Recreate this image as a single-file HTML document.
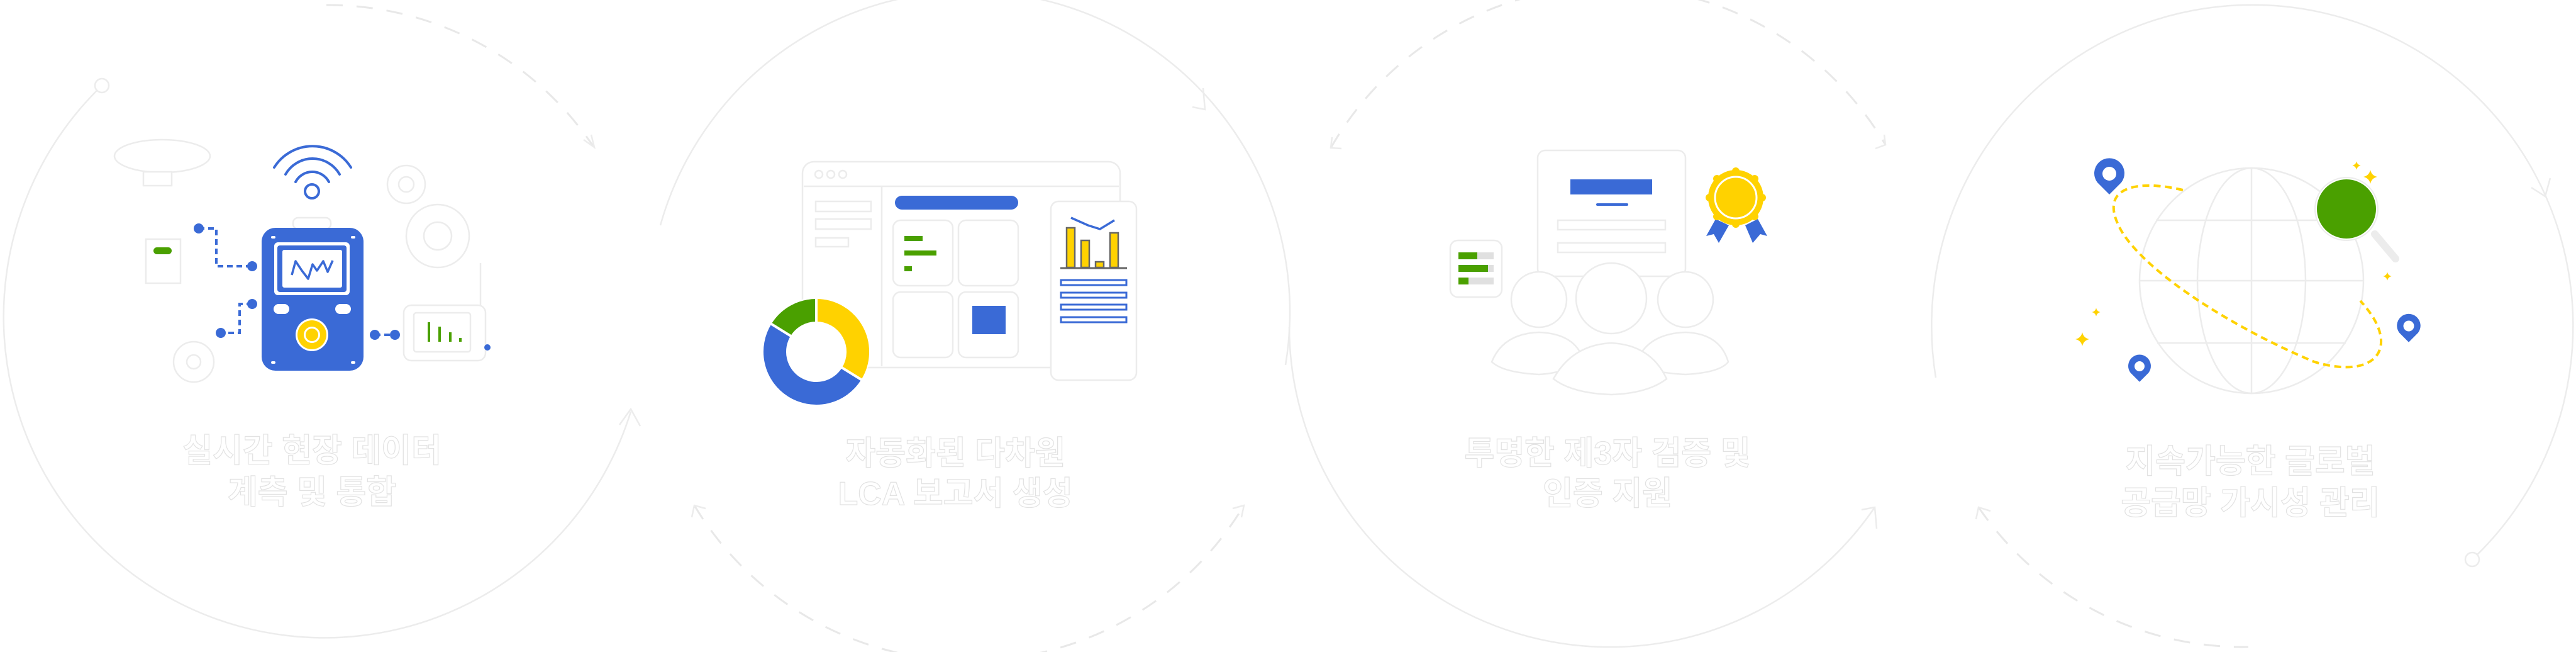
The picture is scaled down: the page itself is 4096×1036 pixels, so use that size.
<!DOCTYPE html>
<html><head><meta charset="utf-8"><style>
html,body{margin:0;padding:0;background:#fff;}
svg{display:block;}
.t{font-family:"Liberation Sans","Noto Sans CJK KR",sans-serif;font-weight:700;font-size:52px;fill:#fff;stroke:#e2e2e2;stroke-width:1.2px;text-anchor:middle;}
.g{fill:none;stroke:#ececec;stroke-width:2.5;}
.gd{fill:none;stroke:#e8e8e8;stroke-width:3;stroke-dasharray:26 22;}
.f{fill:#fff;stroke:#ececec;stroke-width:2.5;}
</style></head><body>
<svg width="4096" height="1036" viewBox="0 0 4096 1036" xmlns="http://www.w3.org/2000/svg">
<rect width="4096" height="1036" fill="#fff"/>

<path class="gd" d="M519,8 A510,510 0 0 1 943,232"/>
<polyline class="g" points="928,222 945,234 940,214"/>
<path class="g" d="M162,136 A510,510 0 1 0 1003,654"/>
<circle cx="162" cy="136" r="11" class="f"/>
<polyline class="g" points="985,675 1003,650 1018,677"/>
<path class="g" d="M1050,358 A510,510 0 0 1 2044,580"/>
<polyline class="g" points="1896,170 1916,174 1913,140"/>
<path class="gd" d="M1104,803 A510,510 0 0 0 1978,803"/>
<polyline class="g" points="1100,822 1104,803 1122,808"/>
<polyline class="g" points="1960,808 1978,803 1974,822"/>
<path class="gd" d="M2116,235 A510,510 0 0 1 2998,230"/>
<polyline class="g" points="2118,218 2116,235 2133,236"/>
<polyline class="g" points="2982,236 2998,230 2996,214"/>
<path class="g" d="M2050,520 A510,510 0 0 0 2981,806"/>
<polyline class="g" points="2960,810 2981,806 2984,840"/>
<path class="g" d="M3078,600 A510,510 0 1 1 3931,889"/>
<polyline class="g" points="4025,298 4047,312 4055,283"/>
<circle cx="3931" cy="889" r="11" class="f"/>
<path class="gd" d="M3146,806 A510,510 0 0 0 3575,1028"/>
<polyline class="g" points="3142,825 3146,806 3165,812"/>

<ellipse cx="258" cy="248" rx="76" ry="26" class="f"/>
<rect x="228" y="273" width="45" height="22" class="f"/>
<rect x="232" y="380" width="55" height="70" class="f"/>
<g class="f"><circle cx="646" cy="293" r="30"/><circle cx="646" cy="293" r="12"/>
<circle cx="696" cy="375" r="50"/><circle cx="696" cy="375" r="22"/>
<circle cx="308" cy="575" r="32"/><circle cx="308" cy="575" r="11"/></g>
<rect x="642" y="485" width="130" height="88" rx="12" class="f"/>
<rect x="658" y="497" width="90" height="62" rx="4" class="f"/>
<line x1="764" y1="418" x2="764" y2="485" class="g"/>
<rect x="466" y="346" width="60" height="18" rx="8" class="f"/>
<rect x="416" y="362" width="162" height="227" rx="22" fill="#3A6AD6"/>
<rect x="436" y="385" width="120" height="84" rx="6" fill="#fff"/>
<rect x="441" y="390" width="110" height="74" rx="4" fill="#3A6AD6"/>
<rect x="448" y="396" width="97" height="62" rx="4" fill="#fff" stroke="#3A6AD6" stroke-width="2"/>
<polyline points="464,437 470,415 480,430 490,443 497,420 504,430 514,415 521,432 529,414" fill="none" stroke="#3A6AD6" stroke-width="3.5" stroke-linejoin="round"/>
<rect x="435" y="483" width="25" height="16" rx="8" fill="#fff"/>
<rect x="533" y="483" width="25" height="16" rx="8" fill="#fff"/>
<circle cx="496" cy="532" r="26" fill="#fff"/>
<circle cx="496" cy="532" r="23" fill="#FFD200"/>
<circle cx="496" cy="532" r="13" fill="#fff"/>
<circle cx="496" cy="532" r="10" fill="#FFD200"/>
<g fill="#fff"><rect x="431" y="375" width="7" height="4" rx="2"/><rect x="558" y="375" width="7" height="4" rx="2"/><rect x="431" y="574" width="7" height="4" rx="2"/><rect x="558" y="574" width="7" height="4" rx="2"/></g>
<g fill="none" stroke="#3A6AD6" stroke-width="4" stroke-linecap="round">
<circle cx="496" cy="304" r="11"/>
<path d="M470,289 A30,30 0 0 1 523,289"/>
<path d="M454,277 A49.5,49.5 0 0 1 540,277"/>
<path d="M436,266 A72,72 0 0 1 558,266"/>
</g>
<g fill="none" stroke="#3A6AD6" stroke-width="4" stroke-dasharray="9 6">
<polyline points="316,363 344,363 344,423 401,423"/>
<polyline points="401,483 381,483 381,529 351,529"/>
<line x1="596" y1="532" x2="628" y2="532"/>
</g>
<g fill="#3A6AD6"><circle cx="316" cy="363" r="8"/><circle cx="401" cy="423" r="8"/><circle cx="401" cy="483" r="8"/><circle cx="351" cy="529" r="8"/><circle cx="596" cy="532" r="8"/><circle cx="628" cy="532" r="8"/><circle cx="775" cy="552" r="5"/></g>
<rect x="244" y="393" width="29" height="11" rx="5.5" fill="#4AA000"/>
<g fill="#4AA000"><rect x="680" y="512" width="4" height="31"/><rect x="697" y="519" width="4" height="24"/><rect x="714" y="528" width="4" height="15"/><rect x="730" y="537" width="4" height="6"/></g>
<text class="t" x="496" y="734">실시간 현장 데이터</text>
<text class="t" x="496" y="800">계측 및 통합</text>

<rect x="1276" y="257" width="505" height="327" rx="18" class="f"/>
<line x1="1278" y1="296" x2="1779" y2="296" class="g"/>
<line x1="1402" y1="296" x2="1402" y2="582" class="g"/>
<g class="f"><circle cx="1302" cy="277" r="6"/><circle cx="1321" cy="277" r="6"/><circle cx="1340" cy="277" r="6"/>
<rect x="1297" y="320" width="88" height="16"/><rect x="1297" y="348" width="88" height="16"/><rect x="1297" y="378" width="52" height="14"/>
<rect x="1420" y="350" width="95" height="104" rx="12"/><rect x="1524" y="350" width="95" height="104" rx="12"/>
<rect x="1420" y="464" width="95" height="104" rx="12"/><rect x="1524" y="464" width="95" height="104" rx="12"/></g>
<rect x="1423" y="311" width="196" height="22" rx="11" fill="#3A6AD6"/>
<g fill="#4AA000"><rect x="1438" y="375" width="29" height="8"/><rect x="1438" y="398" width="51" height="8"/><rect x="1438" y="423" width="12" height="8"/></g>
<rect x="1546" y="486" width="53" height="45" fill="#3A6AD6"/>
<rect x="1671" y="320" width="136" height="284" rx="12" class="f"/>
<g fill="#FFD200" stroke="#666" stroke-width="2.5">
<rect x="1696" y="362" width="13" height="63"/><rect x="1719" y="382" width="13" height="43"/><rect x="1742" y="416" width="13" height="9"/><rect x="1765" y="370" width="13" height="55"/></g>
<line x1="1686" y1="426" x2="1792" y2="426" stroke="#666" stroke-width="3"/>
<polyline points="1703,346 1730,358 1749,364 1772,350" fill="none" stroke="#3A6AD6" stroke-width="3.5"/>
<g fill="#fff" stroke="#3A6AD6" stroke-width="3"><rect x="1687" y="445" width="104" height="8"/><rect x="1687" y="465" width="104" height="8"/><rect x="1687" y="484" width="104" height="8"/><rect x="1687" y="504" width="104" height="8"/></g>
<circle cx="1298" cy="559" r="86" fill="#fff"/>
<g fill="none" stroke-width="36">
<path d="M1298,493 A66,66 0 0 1 1354,594" stroke="#FFD200"/>
<path d="M1354,594 A66,66 0 0 1 1242,524" stroke="#3A6AD6"/>
<path d="M1242,524 A66,66 0 0 1 1298,493" stroke="#4AA000"/>
</g>
<g stroke="#fff" stroke-width="4"><line x1="1298" y1="559" x2="1298" y2="470"/><line x1="1298" y1="559" x2="1374" y2="606"/><line x1="1298" y1="559" x2="1222" y2="512"/></g>
<circle cx="1298" cy="559" r="47" fill="#fff"/>
<text class="t" x="1519" y="738">자동화된 다차원</text>
<text class="t" x="1519" y="802">LCA 보고서 생성</text>

<rect x="2445" y="239" width="235" height="200" rx="12" class="f"/>
<rect x="2497" y="285" width="130" height="24" fill="#3A6AD6"/>
<rect x="2538" y="323" width="51" height="4" rx="2" fill="#3A6AD6"/>
<rect x="2477" y="350" width="171" height="15" class="f"/>
<rect x="2477" y="386" width="171" height="15" class="f"/>
<rect x="2306" y="382" width="82" height="90" rx="12" class="f"/>
<g fill="#e0e0e0"><rect x="2319" y="401" width="56" height="11"/><rect x="2319" y="421" width="56" height="11"/><rect x="2319" y="441" width="56" height="11"/></g>
<g fill="#4AA000"><rect x="2319" y="401" width="30" height="11"/><rect x="2319" y="421" width="47" height="11"/><rect x="2319" y="441" width="16" height="11"/></g>
<g class="f">
<path d="M2372,575 Q2390,530 2447,528 Q2500,530 2515,565 Q2500,592 2447,595 Q2390,592 2372,575Z"/>
<path d="M2602,575 Q2620,530 2680,528 Q2735,530 2748,575 Q2735,592 2680,595 Q2620,592 2602,575Z"/>
<circle cx="2447" cy="476" r="44"/><circle cx="2680" cy="476" r="44"/>
<path d="M2470,602 Q2500,548 2562,545 Q2625,548 2650,602 Q2620,625 2562,627 Q2500,625 2470,602Z"/>
<circle cx="2562" cy="474" r="56"/>
</g>
<g fill="#3A6AD6"><polygon points="2728,348 2749,358 2733,386 2725,372 2713,375"/><polygon points="2775,358 2795,348 2810,375 2799,372 2787,386"/></g>
<g fill="#FFD200">
<circle cx="2760" cy="314" r="44"/>
<circle cx="2760" cy="272" r="6"/><circle cx="2760" cy="356" r="6"/><circle cx="2718" cy="314" r="6"/><circle cx="2802" cy="314" r="6"/>
<circle cx="2790" cy="284" r="6"/><circle cx="2730" cy="284" r="6"/><circle cx="2790" cy="344" r="6"/><circle cx="2730" cy="344" r="6"/>
</g>
<circle cx="2760" cy="314" r="33" fill="none" stroke="#fff" stroke-width="3"/>
<text class="t" x="2556" y="738">투명한 제3자 검증 및</text>
<text class="t" x="2556" y="802">인증 지원</text>

<g class="g">
<ellipse cx="3580" cy="446" rx="178" ry="179"/>
<ellipse cx="3580" cy="446" rx="86" ry="179"/>
<line x1="3580" y1="267" x2="3580" y2="625"/>
<line x1="3402" y1="446" x2="3758" y2="446"/>
<line x1="3428" y1="350" x2="3732" y2="350"/>
<line x1="3430" y1="545" x2="3730" y2="545"/>
</g>
<path d="M3471,302 C3400,285 3330,295 3375,370 C3420,440 3560,525 3680,575 C3780,605 3820,550 3753,478" fill="none" stroke="#FFD200" stroke-width="4" stroke-dasharray="11 7"/>
<line x1="3776" y1="372" x2="3809" y2="411" stroke="#ececec" stroke-width="12" stroke-linecap="round"/>
<circle cx="3731" cy="332" r="50" fill="#fff" stroke="#ececec" stroke-width="2"/>
<circle cx="3731" cy="332" r="47" fill="#4AA000"/>
<g fill="#3A6AD6">
<path transform="translate(3354,276)" d="M0,33 L-19,14 A24,24 0 1 1 19,14 Z"/>
<path transform="translate(3402,582) scale(0.75)" d="M0,33 L-19,14 A24,24 0 1 1 19,14 Z"/>
<path transform="translate(3830,518) scale(0.78)" d="M0,33 L-19,14 A24,24 0 1 1 19,14 Z"/>
</g>
<g fill="#fff"><circle cx="3354" cy="276" r="11"/><circle cx="3402" cy="582" r="8"/><circle cx="3830" cy="518" r="8.5"/></g>
<g fill="#FFD200">
<path transform="translate(3747,263) scale(0.6)" d="M0,-11 Q2,-2 11,0 Q2,2 0,11 Q-2,2 -11,0 Q-2,-2 0,-11Z"/>
<path transform="translate(3769,281)" d="M0,-11 Q2,-2 11,0 Q2,2 0,11 Q-2,2 -11,0 Q-2,-2 0,-11Z"/>
<path transform="translate(3796,439) scale(0.6)" d="M0,-11 Q2,-2 11,0 Q2,2 0,11 Q-2,2 -11,0 Q-2,-2 0,-11Z"/>
<path transform="translate(3333,496) scale(0.6)" d="M0,-11 Q2,-2 11,0 Q2,2 0,11 Q-2,2 -11,0 Q-2,-2 0,-11Z"/>
<path transform="translate(3311,539)" d="M0,-11 Q2,-2 11,0 Q2,2 0,11 Q-2,2 -11,0 Q-2,-2 0,-11Z"/>
</g>
<text class="t" x="3578" y="751">지속가능한 글로벌</text>
<text class="t" x="3578" y="817">공급망 가시성 관리</text>
</svg>
</body></html>
